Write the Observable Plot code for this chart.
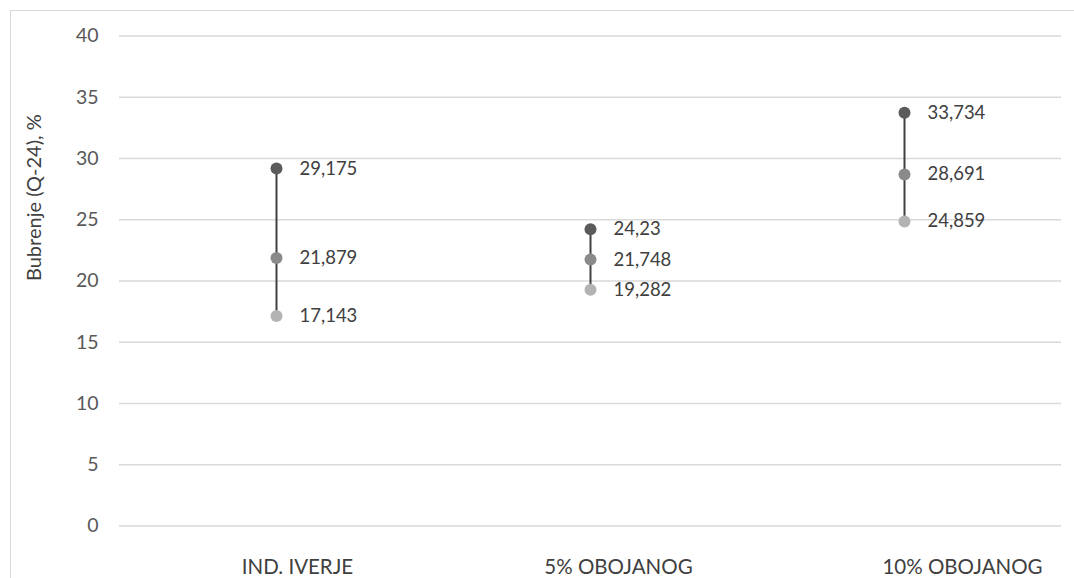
<!DOCTYPE html>
<html>
<head>
<meta charset="utf-8">
<script src="https://cdn.jsdelivr.net/npm/d3@7"></script>
<script src="https://cdn.jsdelivr.net/npm/@observablehq/plot@0.6"></script>
<style>
  html, body { margin: 0; padding: 0; background: #fff; }
  #wrap { position: relative; width: 1074px; height: 578px; overflow: hidden; }
  #frame { position: absolute; left: 10px; top: 10px; width: 1070px; height: 600px; border: 1px solid #d9d9d9; box-sizing: border-box; }
  #chart { position: absolute; left: 0; top: 0; }
</style>
</head>
<body>
<div id="wrap"><div id="frame"></div><div id="chart"></div></div>
<script>
const categories = ["IND. IVERJE", "5% OBOJANOG", "10% OBOJANOG"];
const maxValues  = [29.175, 24.23, 33.734];
const meanValues = [21.879, 21.748, 28.691];
const minValues  = [17.143, 19.282, 24.859];
const yTicks = [0, 5, 10, 15, 20, 25, 30, 35, 40];
const yLabel = "Bubrenje (Q-24), %";

const ranges = categories.map((c, i) => ({cat: c, lo: minValues[i], hi: maxValues[i]}));
const points = [];
categories.forEach((c, i) => {
  points.push({cat: c, v: maxValues[i], kind: "max"});
  points.push({cat: c, v: meanValues[i], kind: "mean"});
  points.push({cat: c, v: minValues[i], kind: "min"});
});
const fmt = v => String(v).replace(".", ",");
const font = "Lato, 'Open Sans', sans-serif";
const xLabelShift = [21, 28, 58];

const chart = Plot.plot({
  width: 1074,
  height: 578,
  marginLeft: 119,
  marginRight: 13,
  marginTop: 35.5,
  marginBottom: 52.5,
  style: {fontFamily: font, fontSize: "19.5px", color: "#595959", background: "transparent"},
  x: {type: "point", domain: categories, padding: 0.5, label: null},
  y: {domain: [0, 40], ticks: yTicks, label: null},
  color: {domain: ["max", "mean", "min"], range: ["#5b5b5b", "#8a8a8a", "#b3b3b3"]},
  marks: [
    Plot.gridY(yTicks, {stroke: "#d9d9d9", strokeOpacity: 1, strokeWidth: 1.3}),
    Plot.ruleX(ranges, {x: "cat", y1: "lo", y2: "hi", stroke: "#404040", strokeWidth: 2}),
    Plot.dot(points, {x: "cat", y: "v", fill: "kind", r: 6}),
    Plot.text(points, {x: "cat", y: "v", text: d => fmt(d.v), dx: 23, textAnchor: "start", fill: "#404040", fontSize: 18.5}),
    Plot.axisY({ticks: yTicks, tickSize: 0, tickPadding: 21, label: null, fill: "#595959", fontSize: 19.5}),
    ...categories.map((c, i) => Plot.axisX([c], {tickSize: 0, tickPadding: 33, label: null, fill: "#404040", fontSize: 20.5, dx: xLabelShift[i]})),
    Plot.text([yLabel], {frameAnchor: "left", dx: -85, rotate: -90, fill: "#404040", fontSize: 20})
  ]
});
document.getElementById("chart").appendChild(chart);
</script>
</body>
</html>
